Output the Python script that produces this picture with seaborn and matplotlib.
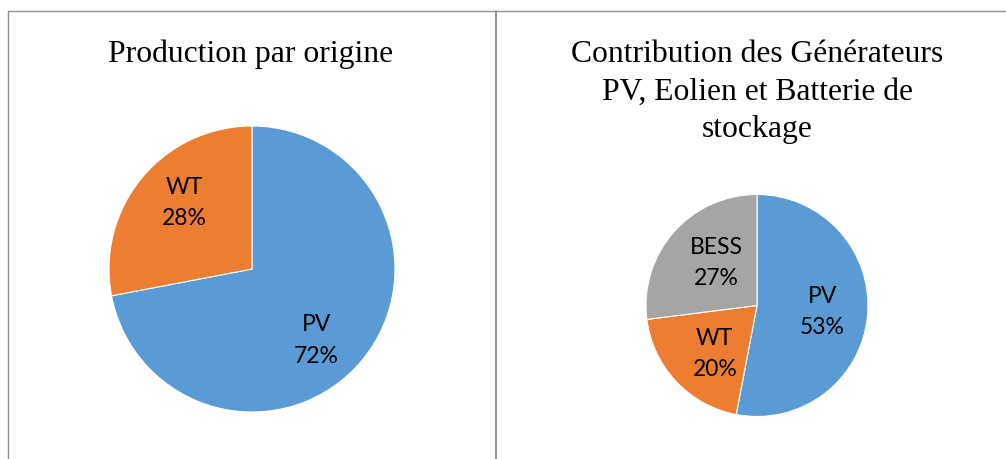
import matplotlib
matplotlib.use("Agg")
import matplotlib.pyplot as plt
from matplotlib.lines import Line2D
import seaborn as sns

# ---- data ----
left_labels = ["PV", "WT"]
left_values = [72, 28]
right_labels = ["PV", "WT", "BESS"]
right_values = [53, 20, 27]
left_title = ["Production par origine"]
right_title = ["Contribution des Générateurs", "PV, Eolien et Batterie de", "stockage"]

sns.set_theme(style="white")
plt.rcParams["font.family"] = ["Lato", "DejaVu Sans"]

palette = {"PV": "#5B9BD5", "WT": "#ED7D31", "BESS": "#A5A5A5"}

W, H = 1006, 459
fig = plt.figure(figsize=(W / 100, H / 100), dpi=100)
fig.patch.set_facecolor("white")


def px_axes(x0, y0, x1, y1):
    return fig.add_axes([x0 / W, 1 - y1 / H, (x1 - x0) / W, (y1 - y0) / H])


def draw_pie(ax, labels, values, label_pos):
    wedges, _ = ax.pie(values, colors=[palette[l] for l in labels], startangle=90,
                       counterclock=False, radius=1,
                       wedgeprops=dict(edgecolor="white", linewidth=0.8))
    ax.set_xlim(-1, 1)
    ax.set_ylim(-1, 1)
    ax.set_aspect("auto")
    ax.axis("off")
    tot = sum(values)
    for lab, val, (x, y) in zip(labels, values, label_pos):
        ax.text(x, y, f"{lab}\n{round(100 * val / tot)}%", ha="center", va="center",
                fontsize=16.5, color="#000000", linespacing=1.6)


ax1 = px_axes(109, 126, 395, 412)
draw_pie(ax1, left_labels, left_values, [(0.45, -0.50), (-0.47, 0.46)])

ax2 = px_axes(646, 194.5, 868, 416.5)
draw_pie(ax2, right_labels, right_values, [(0.59, -0.06), (-0.38, -0.44), (-0.37, 0.38)])

# titles
serif = ["Liberation Serif", "DejaVu Serif"]
for i, line in enumerate(left_title):
    fig.text(251 / W, 1 - (62 + i * 38) / H, line, ha="center", va="baseline",
             fontsize=22.8, family=serif, color="black")
for i, line in enumerate(right_title):
    fig.text(757 / W, 1 - (62 + i * 37.5) / H, line, ha="center", va="baseline",
             fontsize=22.8, family=serif, color="black")

# borders
bc = "#8f8f8f"
lw = 1.0
fig.add_artist(Line2D([8 / W, 1], [1 - 11 / H, 1 - 11 / H], color=bc, lw=lw, transform=fig.transFigure))
fig.add_artist(Line2D([8 / W, 8 / W], [0, 1 - 11 / H], color=bc, lw=lw, transform=fig.transFigure))
fig.add_artist(Line2D([496 / W, 496 / W], [0, 1 - 11 / H], color=bc, lw=lw * 1.3, transform=fig.transFigure))

fig.savefig("out.png", dpi=100, facecolor="white")
